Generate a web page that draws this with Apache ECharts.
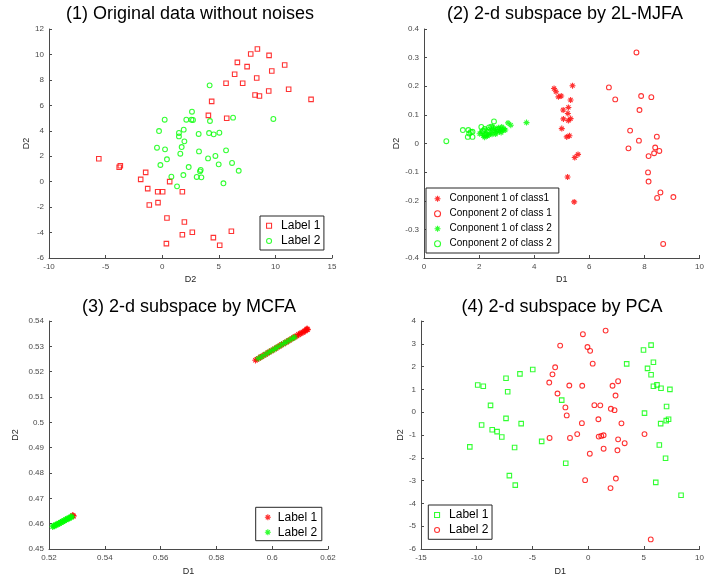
<!DOCTYPE html>
<html>
<head>
<meta charset="utf-8">
<script src="https://cdn.jsdelivr.net/npm/echarts@6/dist/echarts.min.js"></script>
<style>html,body{margin:0;padding:0;background:#fff}#c{width:707px;height:579px}</style>
</head>
<body>
<div id="c"></div>
<script>
// ---------------- Data ----------------
const titles = ['(1) Original data without noises', '(2) 2-d subspace by 2L-MJFA', '(3) 2-d subspace by MCFA', '(4) 2-d subspace by PCA'];

// axis ranges: [min, max, interval]
const p1X = [-10, 15, 5], p1Y = [-6, 12, 2];
const p2X = [0, 10, 2], p2Y = [-0.4, 0.4, 0.1];
const p3X = [0.52, 0.62, 0.02], p3Y = [0.45, 0.54, 0.01];
const p4X = [-15, 10, 5], p4Y = [-6, 4, 1];

// (1) original data
const origLabel1 = [[-5.6,1.8],[-3.7,1.25],[-3.8,1.13],[-1.46,0.73],[-1.9,0.18],[-1.28,-0.55],[-0.4,-0.79],[0.04,-0.79],[0.66,0.0],[-1.14,-1.83],[-0.37,-1.65],[1.78,-0.79],[0.42,-2.86],[1.96,-3.17],[2.66,-3.98],[1.78,-4.17],[0.37,-4.87],[4.52,-4.4],[5.08,-5.0],[6.11,-3.9],[4.08,5.21],[4.37,6.31],[5.7,4.98],[5.64,7.73],[6.4,8.44],[6.64,9.38],[7.11,7.73],[7.5,9.04],[7.82,10.03],[8.41,10.43],[8.35,8.15],[8.2,6.81],[8.59,6.73],[9.44,9.93],[9.68,8.7],[9.41,7.13],[10.82,9.17],[11.17,7.26],[13.15,6.47]];
const origLabel2 = [[4.19,7.57],[0.22,4.87],[2.13,4.87],[2.63,5.5],[2.72,4.85],[2.58,4.87],[4.22,4.77],[6.26,5.03],[9.82,4.93],[-0.28,3.98],[1.9,4.09],[1.48,3.83],[1.48,3.56],[1.96,3.17],[3.22,3.75],[4.14,3.82],[4.55,3.72],[5.05,3.85],[-0.46,2.67],[0.25,2.54],[1.72,2.72],[1.6,2.2],[3.25,2.38],[5.64,2.46],[0.42,1.76],[4.05,1.83],[4.7,2.02],[-0.16,1.31],[2.34,1.15],[3.4,0.92],[3.34,0.81],[4.99,1.36],[6.17,1.47],[6.76,0.86],[0.81,0.39],[1.87,0.52],[3.05,0.37],[3.46,0.34],[1.31,-0.37],[5.41,-0.13]];

// (2) 2L-MJFA
const mjfaC1Class1 = [[4.72,0.192],[4.79,0.181],[4.88,0.163],[4.98,0.166],[5.39,0.202],[5.32,0.152],[5.24,0.126],[5.05,0.117],[5.22,0.105],[5.06,0.086],[5.32,0.087],[5.24,0.08],[5.0,0.052],[5.18,0.023],[5.28,0.027],[5.47,-0.049],[5.59,-0.038],[5.21,-0.117],[5.45,-0.204]];
const mjfaC2Class1 = [[7.71,0.318],[6.71,0.196],[6.94,0.154],[7.88,0.166],[8.25,0.162],[7.82,0.117],[7.48,0.045],[8.45,0.024],[7.8,0.01],[7.42,-0.017],[8.39,-0.014],[8.54,-0.026],[8.35,-0.034],[8.15,-0.044],[8.13,-0.101],[8.15,-0.133],[8.58,-0.171],[8.46,-0.19],[9.05,-0.187],[8.68,-0.351]];
const mjfaC1Class2 = [[2.02,0.034],[2.08,0.041],[2.15,0.028],[2.2,0.022],[2.26,0.033],[2.3,0.026],[2.36,0.03],[2.42,0.038],[2.47,0.032],[2.52,0.045],[2.58,0.05],[2.62,0.038],[2.66,0.046],[2.7,0.055],[2.74,0.042],[2.78,0.05],[2.82,0.058],[2.86,0.046],[2.9,0.052],[2.95,0.047],[3.05,0.072],[3.15,0.064],[3.72,0.073],[2.25,0.048],[2.5,0.058],[2.6,0.033],[2.8,0.038],[2.4,0.05]];
const mjfaC2Class2 = [[0.81,0.008],[1.41,0.047],[1.61,0.047],[1.64,0.035],[1.59,0.023],[1.76,0.023],[1.7,0.04],[1.76,0.041],[2.08,0.058],[2.14,0.044],[2.2,0.051],[2.44,0.059],[2.54,0.077],[2.26,0.031],[2.2,0.03],[2.68,0.05],[2.36,0.056]];

// (3) MCFA
const mcfaLabel1 = [[0.5940,0.5245],[0.5945,0.5249],[0.5952,0.5252],[0.5958,0.5258],[0.5963,0.5259],[0.5971,0.5266],[0.5977,0.5268],[0.5984,0.5275],[0.5990,0.5277],[0.5996,0.5283],[0.6003,0.5285],[0.6009,0.5291],[0.6014,0.5292],[0.6021,0.5299],[0.6027,0.5301],[0.6033,0.5307],[0.6040,0.5309],[0.6046,0.5315],[0.6052,0.5317],[0.6058,0.5323],[0.6063,0.5324],[0.6070,0.5331],[0.6076,0.5333],[0.6082,0.5339],[0.6089,0.5341],[0.6094,0.5347],[0.6100,0.5349],[0.6104,0.5353],[0.6110,0.5355],[0.6115,0.5360],[0.6119,0.5361],[0.6123,0.5366],[0.6127,0.5366],[0.6125,0.5369],[0.5286,0.4631],[0.5288,0.4630],[0.5284,0.4632]];
const mcfaLabel2 = [[0.5213,0.4588],[0.5216,0.4591],[0.5220,0.4591],[0.5223,0.4595],[0.5226,0.4595],[0.5229,0.4598],[0.5232,0.4598],[0.5235,0.4602],[0.5238,0.4601],[0.5241,0.4605],[0.5244,0.4605],[0.5247,0.4609],[0.5250,0.4608],[0.5253,0.4612],[0.5256,0.4612],[0.5259,0.4616],[0.5262,0.4615],[0.5265,0.4619],[0.5268,0.4619],[0.5271,0.4622],[0.5274,0.4622],[0.5277,0.4626],[0.5280,0.4626],[0.5282,0.4628],[0.5950,0.5252],[0.5962,0.5259],[0.5975,0.5268],[0.5987,0.5276],[0.5998,0.5283],[0.6008,0.5289],[0.6018,0.5296],[0.6030,0.5304],[0.6041,0.5311],[0.6050,0.5317],[0.6061,0.5324],[0.6072,0.5331],[0.6080,0.5336]];

// (4) PCA
const pcaLabel1 = [[-10.62,-1.52],[-9.91,1.19],[-9.41,1.14],[-9.56,-0.56],[-8.76,0.3],[-8.61,-0.77],[-8.17,-0.85],[-7.75,-1.09],[-7.37,1.49],[-7.22,0.9],[-7.37,-0.27],[-6.6,-1.55],[-7.07,-2.78],[-6.54,-3.2],[-6.12,1.68],[-6.01,-0.5],[-4.97,1.87],[-4.17,-1.28],[-2.37,0.53],[-2.01,-2.24],[3.46,2.12],[4.97,2.73],[5.65,2.94],[5.86,2.19],[5.33,1.92],[5.65,1.64],[6.18,1.2],[5.86,1.14],[6.54,1.05],[7.34,1.0],[7.04,0.25],[5.06,-0.04],[7.22,-0.31],[7.01,-0.37],[6.51,-0.5],[6.39,-1.44],[6.95,-2.02],[6.07,-3.08],[8.34,-3.64]];
const pcaLabel2 = [[-0.47,3.42],[1.57,3.58],[-2.51,2.92],[-0.06,2.86],[0.18,2.69],[0.41,2.13],[-2.96,1.97],[-3.2,1.66],[-3.49,1.3],[-2.75,0.82],[-1.69,1.17],[-0.53,1.16],[2.69,1.36],[2.19,1.16],[2.46,0.73],[-2.04,0.21],[-1.92,-0.14],[0.56,0.31],[1.09,0.3],[2.04,0.15],[2.37,0.09],[0.92,-0.31],[-0.56,-0.48],[2.99,-0.49],[-0.98,-0.96],[-3.46,-1.13],[-1.63,-1.13],[0.95,-1.07],[1.18,-1.04],[1.39,-1.01],[2.69,-1.19],[3.28,-1.36],[1.39,-1.6],[2.63,-1.67],[0.15,-1.82],[-0.27,-2.98],[2.49,-2.91],[2.01,-3.33],[5.06,-0.96],[5.62,-5.58]];

// ---------------- Styling / layout ----------------
const FONT = "'Liberation Sans', Arial, Helvetica, sans-serif";
const RED = '#ff0000', GREEN = '#00ff00', AX = '#4a4a4a';
const SQUARE = 'path://M0,0L10,0L10,10L0,10Z';
const STAR = 'path://M5,0L5,10M0,5L10,5M1.6,1.6L8.4,8.4M1.6,8.4L8.4,1.6';
const CLEAR = 'rgba(0,0,0,0)';

const grids = [
  {left: 49, top: 29, width: 283, height: 229},
  {left: 424, top: 29, width: 283, height: 229},
  {left: 49, top: 321, width: 279, height: 228},
  {left: 421, top: 321, width: 282, height: 228}
];

function axisBase(gi, r, name, gap) {
  return {
    type: 'value', gridIndex: gi, min: r[0], max: r[1], interval: r[2],
    name: name, nameLocation: 'middle', nameGap: gap,
    nameTextStyle: {fontSize: 9, color: '#262626', fontFamily: FONT},
    axisLine: {show: true, onZero: false, lineStyle: {color: AX, width: 1}},
    axisTick: {show: true, inside: true, length: 3, lineStyle: {color: AX}},
    axisLabel: {fontSize: 8, color: AX, margin: 5, fontFamily: FONT, showMinLabel: true, showMaxLabel: true},
    splitLine: {show: false}
  };
}
const xAxes = [axisBase(0, p1X, 'D2', 17), axisBase(1, p2X, 'D1', 17), axisBase(2, p3X, 'D1', 18), axisBase(3, p4X, 'D1', 18)];
const yAxes = [axisBase(0, p1Y, 'D2', 16.8), axisBase(1, p2Y, 'D2', 20.5), axisBase(2, p3Y, 'D2', 28.8), axisBase(3, p4Y, 'D2', 15.5)];

function sc(name, data, gi, sym, color, size, bw) {
  return {
    type: 'scatter', name: name, data: data, xAxisIndex: gi, yAxisIndex: gi,
    symbol: sym, symbolSize: size, symbolKeepAspect: true,
    itemStyle: {color: CLEAR, borderColor: color, borderWidth: bw || 1.1},
    emphasis: {disabled: true}, silent: true
  };
}
const series = [
  sc('Label 1', origLabel1, 0, SQUARE, RED, 4.5),
  sc('Label 2', origLabel2, 0, 'circle', GREEN, 4.8),
  sc('Conponent 1 of class1', mjfaC1Class1, 1, STAR, RED, 6),
  sc('Conponent 2 of class 1', mjfaC2Class1, 1, 'circle', RED, 4.8),
  sc('Conponent 1 of class 2', mjfaC1Class2, 1, STAR, GREEN, 6),
  sc('Conponent 2 of class 2', mjfaC2Class2, 1, 'circle', GREEN, 4.8),
  sc('Label 1', mcfaLabel1, 2, STAR, RED, 6.5),
  sc('Label 2', mcfaLabel2, 2, STAR, GREEN, 6.5),
  sc('Label 1', pcaLabel1, 3, SQUARE, GREEN, 4.5),
  sc('Label 2', pcaLabel2, 3, 'circle', RED, 4.8)
];

function li(name, icon, color) {
  return {name: name, icon: icon, itemStyle: {color: CLEAR, borderColor: color, borderWidth: 1.1}};
}
function legendBox(left, top, pad, fs, lh, gap, iw, ih, items) {
  return {
    orient: 'vertical', left: left, top: top, padding: pad, itemGap: gap,
    itemWidth: iw, itemHeight: ih, symbolKeepAspect: true, selectedMode: false,
    backgroundColor: '#fff', borderColor: '#262626', borderWidth: 1, borderRadius: 0,
    textStyle: {fontSize: fs, lineHeight: lh, color: '#000', fontFamily: FONT},
    data: items
  };
}
const legends = [
  legendBox(260, 216, [2.7, 3.5, 2, 6], 12, 14, 1.3, 14, 5, [li('Label 1', SQUARE, RED), li('Label 2', 'circle', GREEN)]),
  legendBox(426, 188, [4.7, 7, 3.3, 8], 10, 12, 3, 14, 6, [li('Conponent 1 of class1', STAR, RED), li('Conponent 2 of class 1', 'circle', RED), li('Conponent 1 of class 2', STAR, GREEN), li('Conponent 2 of class 2', 'circle', GREEN)]),
  legendBox(255.7, 507.3, [3, 4.6, 1.4, 8.6], 12, 14, 1, 10, 6, [li('Label 1', STAR, RED), li('Label 2', STAR, GREEN)]),
  legendBox(428.3, 505, [3, 3.6, 2.3, 5.7], 12, 14, 1, 14, 5, [li('Label 1', SQUARE, GREEN), li('Label 2', 'circle', RED)])
];

const titleCenters = [[190, 5], [565, 5], [189, 298], [562, 298]];
const titleOpts = titles.map((t, i) => ({
  text: t, left: titleCenters[i][0], top: titleCenters[i][1], textAlign: 'center', padding: 0,
  textStyle: {fontSize: 18, fontWeight: 'normal', color: '#000', fontFamily: FONT}
}));

const chart = echarts.init(document.getElementById('c'), null, {renderer: 'canvas'});
chart.setOption({
  animation: false,
  backgroundColor: '#fff',
  title: titleOpts,
  grid: grids,
  xAxis: xAxes,
  yAxis: yAxes,
  legend: legends,
  series: series
});
</script>
</body>
</html>
